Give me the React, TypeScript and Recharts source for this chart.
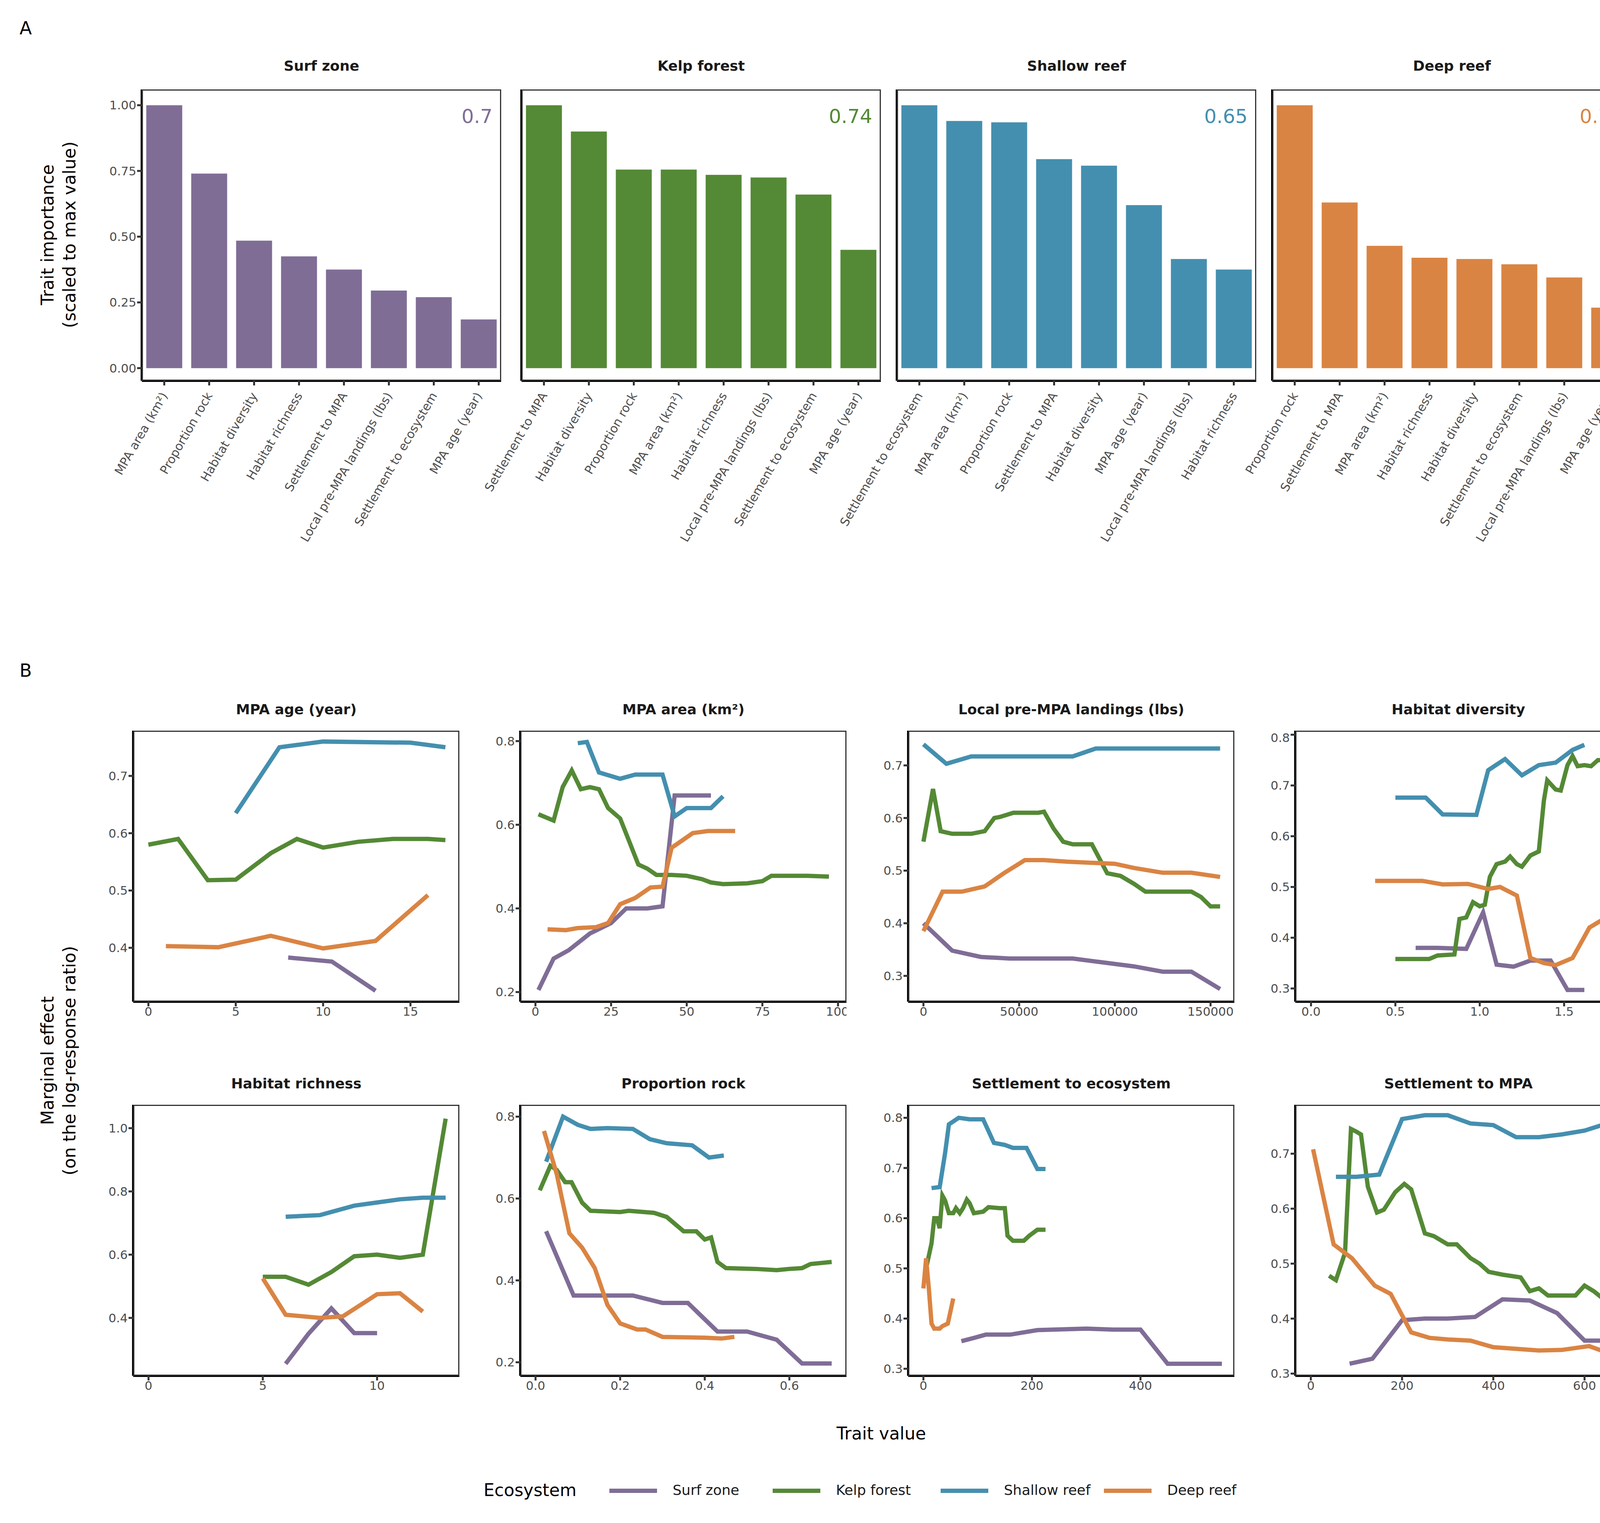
import React from "react"
import { Bar, BarChart, Line, LineChart, XAxis, YAxis } from "recharts"

const FONT = "DejaVu Sans"
const COLORS = { surf: "#7F6D96", kelp: "#548935", shallow: "#448FAF", deep: "#DA8443" }
const ECOS = ["surf", "kelp", "shallow", "deep"] as const
const ECO_NAMES = ["Surf zone", "Kelp forest", "Shallow reef", "Deep reef"]

// Panel A: trait importance (scaled)
const surfTraits = ["MPA area (km²)", "Proportion rock", "Habitat diversity", "Habitat richness", "Settlement to MPA", "Local pre-MPA landings (lbs)", "Settlement to ecosystem", "MPA age (year)"]
const surfImp = [1.0, 0.74, 0.485, 0.425, 0.375, 0.295, 0.27, 0.185]
const kelpTraits = ["Settlement to MPA", "Habitat diversity", "Proportion rock", "MPA area (km²)", "Habitat richness", "Local pre-MPA landings (lbs)", "Settlement to ecosystem", "MPA age (year)"]
const kelpImp = [1.0, 0.9, 0.755, 0.755, 0.735, 0.725, 0.66, 0.45]
const shallowTraits = ["Settlement to ecosystem", "MPA area (km²)", "Proportion rock", "Settlement to MPA", "Habitat diversity", "MPA age (year)", "Local pre-MPA landings (lbs)", "Habitat richness"]
const shallowImp = [1.0, 0.94, 0.935, 0.795, 0.77, 0.62, 0.415, 0.375]
const deepTraits = ["Proportion rock", "Settlement to MPA", "MPA area (km²)", "Habitat richness", "Habitat diversity", "Settlement to ecosystem", "Local pre-MPA landings (lbs)", "MPA age (year)"]
const deepImp = [1.0, 0.63, 0.465, 0.42, 0.415, 0.395, 0.345, 0.23]
const scores = ["0.7", "0.74", "0.65", "0.78"]

// Panel B: marginal effects, [x, y] pairs per ecosystem
const ageSurf = [[8, 0.383], [10.5, 0.376], [13, 0.325]]
const ageKelp = [[0, 0.58], [1.7, 0.59], [3.4, 0.518], [5, 0.519], [7, 0.565], [8.5, 0.59], [10, 0.575], [12, 0.585], [14, 0.59], [16, 0.59], [17, 0.588]]
const ageShallow = [[5, 0.635], [7.5, 0.75], [10, 0.76], [15, 0.758], [17, 0.75]]
const ageDeep = [[1, 0.403], [4, 0.401], [7, 0.421], [10, 0.399], [13, 0.412], [16, 0.492]]

const areaSurf = [[1, 0.205], [6, 0.28], [11, 0.3], [18, 0.34], [25, 0.365], [30, 0.4], [37, 0.4], [42, 0.405], [46, 0.67], [50, 0.67], [58, 0.67]]
const areaKelp = [[1, 0.625], [6, 0.61], [9, 0.69], [12, 0.73], [15, 0.685], [18, 0.69], [21, 0.685], [24, 0.64], [28, 0.615], [31, 0.56], [34, 0.505], [37, 0.495], [40, 0.48], [45, 0.48], [50, 0.478], [55, 0.47], [58, 0.462], [62, 0.458], [70, 0.46], [75, 0.465], [78, 0.478], [90, 0.478], [97, 0.476]]
const areaShallow = [[14, 0.795], [17, 0.798], [21, 0.725], [28, 0.71], [33, 0.72], [42, 0.72], [46, 0.62], [50, 0.64], [58, 0.64], [62, 0.668]]
const areaDeep = [[4, 0.35], [10, 0.348], [14, 0.353], [20, 0.355], [24, 0.365], [28, 0.41], [33, 0.425], [38, 0.45], [42, 0.452], [45, 0.545], [52, 0.58], [57, 0.585], [66, 0.585]]

const landSurf = [[0, 0.4], [15000, 0.348], [30000, 0.336], [45000, 0.333], [78000, 0.333], [95000, 0.325], [110000, 0.318], [125000, 0.308], [140000, 0.308], [155000, 0.275]]
const landKelp = [[0, 0.555], [5000, 0.655], [9000, 0.575], [15000, 0.57], [25000, 0.57], [32000, 0.575], [37000, 0.6], [40000, 0.602], [47000, 0.61], [60000, 0.61], [63000, 0.612], [68000, 0.58], [73000, 0.555], [78000, 0.55], [88000, 0.55], [96000, 0.495], [103000, 0.49], [110000, 0.475], [116000, 0.46], [140000, 0.46], [145000, 0.45], [150000, 0.432], [155000, 0.432]]
const landShallow = [[0, 0.74], [12000, 0.703], [25000, 0.717], [78000, 0.717], [90000, 0.732], [155000, 0.732]]
const landDeep = [[0, 0.385], [10000, 0.46], [20000, 0.46], [32000, 0.47], [42000, 0.495], [53000, 0.52], [63000, 0.52], [75000, 0.517], [100000, 0.513], [110000, 0.505], [125000, 0.496], [140000, 0.496], [155000, 0.488]]

const divSurf = [[0.62, 0.38], [0.75, 0.38], [0.92, 0.378], [1.02, 0.45], [1.1, 0.347], [1.2, 0.343], [1.3, 0.355], [1.42, 0.355], [1.52, 0.297], [1.62, 0.297]]
const divKelp = [[0.5, 0.358], [0.7, 0.358], [0.75, 0.365], [0.85, 0.367], [0.88, 0.437], [0.92, 0.44], [0.96, 0.47], [1.0, 0.462], [1.03, 0.465], [1.06, 0.52], [1.1, 0.545], [1.15, 0.55], [1.18, 0.56], [1.22, 0.545], [1.25, 0.54], [1.3, 0.562], [1.35, 0.57], [1.38, 0.67], [1.4, 0.71], [1.45, 0.692], [1.48, 0.69], [1.52, 0.74], [1.55, 0.758], [1.58, 0.738], [1.62, 0.74], [1.66, 0.738], [1.7, 0.75], [1.75, 0.75]]
const divShallow = [[0.5, 0.676], [0.68, 0.676], [0.78, 0.643], [0.98, 0.642], [1.05, 0.73], [1.15, 0.752], [1.25, 0.72], [1.35, 0.74], [1.45, 0.745], [1.55, 0.77], [1.62, 0.78]]
const divDeep = [[0.38, 0.512], [0.66, 0.512], [0.78, 0.505], [0.93, 0.506], [1.05, 0.496], [1.12, 0.5], [1.22, 0.483], [1.3, 0.36], [1.38, 0.35], [1.45, 0.346], [1.55, 0.36], [1.65, 0.42], [1.75, 0.44]]

const richSurf = [[6, 0.255], [7, 0.35], [8, 0.43], [9, 0.352], [10, 0.352]]
const richKelp = [[5, 0.53], [6, 0.53], [7, 0.505], [8, 0.545], [9, 0.595], [10, 0.6], [11, 0.59], [12, 0.6], [13, 1.03]]
const richShallow = [[6, 0.72], [7.5, 0.725], [9, 0.755], [10, 0.765], [11, 0.775], [12, 0.78], [13, 0.78]]
const richDeep = [[5, 0.525], [6, 0.41], [7.5, 0.4], [8.5, 0.405], [10, 0.475], [11, 0.478], [12, 0.42]]

const rockSurf = [[0.025, 0.52], [0.09, 0.363], [0.23, 0.363], [0.3, 0.345], [0.36, 0.345], [0.43, 0.275], [0.5, 0.275], [0.57, 0.255], [0.63, 0.197], [0.7, 0.197]]
const rockKelp = [[0.01, 0.62], [0.035, 0.68], [0.05, 0.67], [0.07, 0.64], [0.085, 0.64], [0.11, 0.59], [0.13, 0.57], [0.2, 0.567], [0.22, 0.57], [0.28, 0.565], [0.31, 0.555], [0.35, 0.52], [0.38, 0.52], [0.4, 0.5], [0.415, 0.505], [0.43, 0.445], [0.45, 0.43], [0.52, 0.428], [0.57, 0.425], [0.6, 0.428], [0.63, 0.43], [0.65, 0.44], [0.7, 0.445]]
const rockShallow = [[0.025, 0.69], [0.065, 0.8], [0.1, 0.78], [0.13, 0.77], [0.17, 0.772], [0.23, 0.77], [0.27, 0.745], [0.31, 0.735], [0.37, 0.73], [0.41, 0.7], [0.445, 0.705]]
const rockDeep = [[0.02, 0.765], [0.05, 0.66], [0.08, 0.515], [0.11, 0.48], [0.14, 0.43], [0.17, 0.34], [0.2, 0.295], [0.24, 0.28], [0.26, 0.28], [0.3, 0.262], [0.4, 0.26], [0.44, 0.258], [0.47, 0.262]]

const ecoSurf = [[70, 0.355], [95, 0.362], [115, 0.368], [160, 0.368], [210, 0.377], [300, 0.38], [350, 0.378], [400, 0.378], [450, 0.31], [550, 0.31]]
const ecoKelp = [[5, 0.5], [15, 0.55], [20, 0.6], [25, 0.6], [30, 0.58], [35, 0.645], [40, 0.635], [47, 0.61], [55, 0.61], [60, 0.62], [67, 0.61], [73, 0.62], [80, 0.637], [85, 0.63], [93, 0.61], [110, 0.613], [120, 0.622], [140, 0.62], [150, 0.62], [155, 0.565], [165, 0.555], [185, 0.555], [195, 0.565], [210, 0.577], [225, 0.577]]
const ecoShallow = [[15, 0.66], [30, 0.662], [40, 0.73], [47, 0.787], [65, 0.8], [85, 0.797], [110, 0.797], [130, 0.75], [150, 0.746], [165, 0.74], [190, 0.74], [210, 0.698], [225, 0.698]]
const ecoDeep = [[0, 0.46], [5, 0.52], [10, 0.46], [15, 0.39], [20, 0.38], [30, 0.38], [35, 0.385], [45, 0.39], [55, 0.44]]

const mpaSurf = [[85, 0.318], [135, 0.327], [200, 0.397], [250, 0.4], [300, 0.4], [360, 0.403], [420, 0.435], [480, 0.433], [540, 0.41], [600, 0.36], [650, 0.36]]
const mpaKelp = [[40, 0.478], [55, 0.47], [75, 0.52], [88, 0.745], [100, 0.74], [110, 0.735], [125, 0.64], [145, 0.593], [160, 0.598], [185, 0.63], [205, 0.645], [220, 0.635], [250, 0.555], [270, 0.55], [300, 0.535], [320, 0.535], [350, 0.51], [370, 0.5], [390, 0.485], [420, 0.48], [460, 0.475], [480, 0.45], [500, 0.455], [520, 0.442], [580, 0.442], [600, 0.46], [620, 0.45], [650, 0.43]]
const mpaShallow = [[55, 0.658], [100, 0.658], [150, 0.662], [200, 0.763], [250, 0.77], [300, 0.77], [350, 0.755], [400, 0.752], [450, 0.73], [500, 0.73], [550, 0.735], [600, 0.742], [650, 0.755]]
const mpaDeep = [[5, 0.708], [50, 0.535], [90, 0.51], [140, 0.46], [175, 0.445], [220, 0.375], [260, 0.365], [300, 0.362], [350, 0.36], [400, 0.348], [450, 0.345], [500, 0.342], [550, 0.343], [610, 0.35], [650, 0.338]]

const barPanels = [
  { title: "Surf zone", traits: surfTraits, values: surfImp, color: COLORS.surf },
  { title: "Kelp forest", traits: kelpTraits, values: kelpImp, color: COLORS.kelp },
  { title: "Shallow reef", traits: shallowTraits, values: shallowImp, color: COLORS.shallow },
  { title: "Deep reef", traits: deepTraits, values: deepImp, color: COLORS.deep },
]

const linePanels = [
  { title: "MPA age (year)", series: [ageSurf, ageKelp, ageShallow, ageDeep], xd: [-0.87, 17.8], xt: [0, 5, 10, 15], yd: [0.306, 0.779], yt: [0.4, 0.5, 0.6, 0.7], fx: 0, fy: 1 },
  { title: "MPA area (km²)", series: [areaSurf, areaKelp, areaShallow, areaDeep], xd: [-5, 102.8], xt: [0, 25, 50, 75, 100], yd: [0.177, 0.825], yt: [0.2, 0.4, 0.6, 0.8], fx: 0, fy: 1 },
  { title: "Local pre-MPA landings (lbs)", series: [landSurf, landKelp, landShallow, landDeep], xd: [-7960, 162450], xt: [0, 50000, 100000, 150000], yd: [0.251, 0.766], yt: [0.3, 0.4, 0.5, 0.6, 0.7], fx: 0, fy: 1 },
  { title: "Habitat diversity", series: [divSurf, divKelp, divShallow, divDeep], xd: [-0.093, 1.84], xt: [0, 0.5, 1, 1.5], yd: [0.274, 0.808], yt: [0.3, 0.4, 0.5, 0.6, 0.7, 0.8], fx: 1, fy: 1 },
  { title: "Habitat richness", series: [richSurf, richKelp, richShallow, richDeep], xd: [-0.67, 13.6], xt: [0, 5, 10], yd: [0.217, 1.074], yt: [0.4, 0.6, 0.8, 1.0], fx: 0, fy: 1 },
  { title: "Proportion rock", series: [rockSurf, rockKelp, rockShallow, rockDeep], xd: [-0.036, 0.735], xt: [0, 0.2, 0.4, 0.6], yd: [0.167, 0.829], yt: [0.2, 0.4, 0.6, 0.8], fx: 1, fy: 1 },
  { title: "Settlement to ecosystem", series: [ecoSurf, ecoKelp, ecoShallow, ecoDeep], xd: [-28, 573], xt: [0, 200, 400], yd: [0.286, 0.826], yt: [0.3, 0.4, 0.5, 0.6, 0.7, 0.8], fx: 0, fy: 1 },
  { title: "Settlement to MPA", series: [mpaSurf, mpaKelp, mpaShallow, mpaDeep], xd: [-34, 681], xt: [0, 200, 400, 600], yd: [0.296, 0.789], yt: [0.3, 0.4, 0.5, 0.6, 0.7], fx: 0, fy: 1 },
]

const tickStyle = { fontSize: 31, fill: "#4d4d4d", fontFamily: FONT }
const abs = (left: number, top: number, extra: any = {}) => ({ position: "absolute" as const, left, top, ...extra })

function RotTick({ x, y, payload }: any) {
  return (
    <text x={x} y={y + 18} transform={`rotate(-60 ${x} ${y + 18})`} textAnchor="end" dominantBaseline="central" style={tickStyle}>
      {payload.value}
    </text>
  )
}

function Frame({ left, top, w, h }: any) {
  return <div style={abs(left, top, { width: w, height: h, border: "3px solid #333", boxSizing: "border-box", pointerEvents: "none" })} />
}

function Title({ cx, y, text }: any) {
  return (
    <div style={abs(cx - 400, y, { width: 800, textAlign: "center", fontSize: 36, fontWeight: "bold", fontFamily: FONT, color: "#1a1a1a" })}>{text}</div>
  )
}

const AW = 150
const BAR_X = [363, 1335, 2296, 3257]
const BAR_W = 920
const BAR_Y = 229
const BAR_H = 746
const LX = [341, 1332, 2325, 3316]
const LW = 835
const LY = [1871, 2829]
const LH = 694
const axisLine = { stroke: "#000", strokeWidth: 6 }
const tickLine = { stroke: "#333", strokeWidth: 5 }

export default function App() {
  return (
    <div style={abs(0, 0, { width: 4200, height: 3900, background: "#fff", fontFamily: FONT, overflow: "hidden" })}>
      <div style={abs(50, 45, { fontSize: 46, fontFamily: FONT })}>A</div>
      <div style={abs(50, 1690, { fontSize: 46, fontFamily: FONT })}>B</div>

      {barPanels.map((p, i) => {
        const data = p.traits.map((t, k) => ({ trait: t, value: p.values[k] }))
        return (
          <React.Fragment key={p.title}>
            <Title cx={BAR_X[i] + BAR_W / 2} y={148} text={p.title} />
            <div style={abs(BAR_X[i] - AW, BAR_Y)}>
              <BarChart width={BAR_W + AW} height={BAR_H + 500} data={data} margin={{ top: 0, right: 0, bottom: 0, left: 0 }} barCategoryGap="10%">
                <XAxis dataKey="trait" height={500} tick={<RotTick />} interval={0} axisLine={axisLine} tickLine={tickLine} tickSize={12} />
                <YAxis width={AW} type="number" domain={[-0.048, 1.06]} ticks={[0, 0.25, 0.5, 0.75, 1]} tickFormatter={(v: number) => v.toFixed(2)} tick={i === 0 ? tickStyle : false} axisLine={axisLine} tickLine={i === 0 ? tickLine : false} tickSize={12} allowDataOverflow />
                <Bar dataKey="value" fill={p.color} isAnimationActive={false} />
              </BarChart>
            </div>
            <Frame left={BAR_X[i]} top={BAR_Y} w={BAR_W} h={BAR_H} />
            <div style={abs(BAR_X[i], BAR_Y + 40, { width: BAR_W - 22, textAlign: "right", fontSize: 50, color: p.color, fontFamily: FONT })}>{scores[i]}</div>
          </React.Fragment>
        )
      })}

      <div style={abs(150 - 400, 605 - 60, { width: 800, textAlign: "center", transform: "rotate(-90deg)", fontSize: 44, lineHeight: "56px", fontFamily: FONT })}>
        Trait importance<br />(scaled to max value)
      </div>

      {linePanels.map((p, i) => {
        const col = i % 4
        const row = Math.floor(i / 4)
        const left = LX[col]
        const top = LY[row]
        return (
          <React.Fragment key={p.title}>
            <Title cx={left + LW / 2} y={top - 75} text={p.title} />
            <div style={abs(left - AW, top)}>
              <LineChart width={LW + AW} height={LH + 80} margin={{ top: 0, right: 0, bottom: 0, left: 0 }}>
                <XAxis type="number" dataKey="x" domain={p.xd} ticks={p.xt} allowDataOverflow height={80} tick={tickStyle} tickFormatter={(v: number) => (p.fx ? v.toFixed(p.fx) : String(v))} axisLine={axisLine} tickLine={tickLine} tickSize={12} />
                <YAxis type="number" dataKey="y" domain={p.yd} ticks={p.yt} allowDataOverflow width={AW} tick={tickStyle} tickFormatter={(v: number) => v.toFixed(p.fy)} axisLine={axisLine} tickLine={tickLine} tickSize={12} />
                {p.series.map((s, k) => (
                  <Line key={k} data={s.map(([x, y]) => ({ x, y }))} dataKey="y" stroke={COLORS[ECOS[k]]} strokeWidth={11} dot={false} isAnimationActive={false} />
                ))}
              </LineChart>
            </div>
            <Frame left={left} top={top} w={LW} h={LH} />
          </React.Fragment>
        )
      })}

      <div style={abs(150 - 500, 2720 - 60, { width: 1000, textAlign: "center", transform: "rotate(-90deg)", fontSize: 44, lineHeight: "56px", fontFamily: FONT })}>
        Marginal effect<br />(on the log-response ratio)
      </div>
      <div style={abs(2256 - 300, 3645, { width: 600, textAlign: "center", fontSize: 44, fontFamily: FONT })}>Trait value</div>

      <div style={abs(1238, 3790, { fontSize: 44, fontFamily: FONT })}>Ecosystem</div>
      {ECO_NAMES.map((n, k) => {
        const lx = [1560, 1978, 2408, 2826][k]
        return (
          <React.Fragment key={n}>
            <div style={abs(lx, 3812, { width: 122, height: 11, background: COLORS[ECOS[k]] })} />
            <div style={abs(lx + 162, 3795, { fontSize: 36, fontFamily: FONT, color: "#1a1a1a" })}>{n}</div>
          </React.Fragment>
        )
      })}
    </div>
  )
}
